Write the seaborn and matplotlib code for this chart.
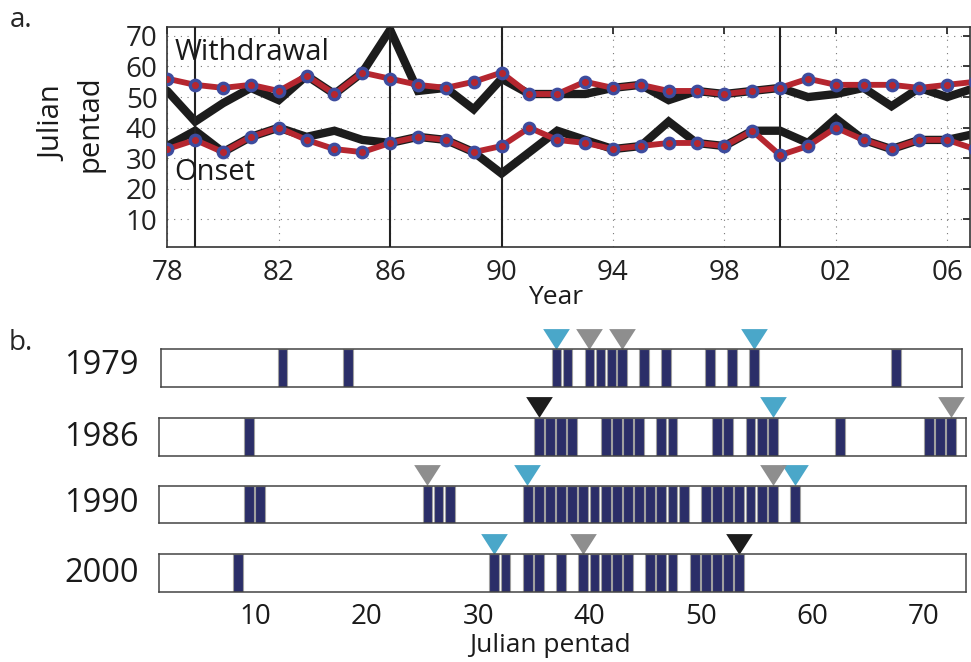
import numpy as np
import pandas as pd
import seaborn as sns
import matplotlib.pyplot as plt
from matplotlib.path import Path

# panel a: onset / withdrawal pentads per year
years = list(range(1978, 2008))
onset_red = [33, 36, 32, 37, 40, 36, 33, 32, 35, 37, 36, 32, 34, 40, 36,
             35, 33, 34, 35, 35, 34, 39, 31, 34, 40, 36, 33, 36, 36, 33]
withdrawal_red = [56, 54, 53, 54, 52, 57, 51, 58, 56, 54, 53, 55, 58, 51, 51,
                  55, 53, 54, 52, 52, 51, 52, 53, 56, 54, 54, 54, 53, 54, 55]
onset_black = [34, 39, 32, 37, 40, 37, 39, 36, 35, 37, 36, 32, 25, 32, 39,
               36, 33, 34, 42, 35, 34, 39, 39, 35, 43, 36, 33, 36, 36, 38]
withdrawal_black = [52, 42, 48, 53, 49, 57, 51, 58, 72, 52, 53, 46, 56, 51, 51,
                    51, 53, 54, 49, 52, 51, 52, 53, 50, 51, 53, 47, 53, 50, 53]
marked_years = [1979, 1986, 1990, 2000]
year_ticks = [1978, 1982, 1986, 1990, 1994, 1998, 2002, 2006]
year_labels = ["78", "82", "86", "90", "94", "98", "02", "06"]

# panel b: active pentads for the marked years
active_1979 = [11, 17, 36, 37, 39, 40, 41, 42, 44, 46, 50, 52, 54, 67]
active_1986 = [9, 35, 36, 37, 38, 41, 42, 43, 44, 46, 47, 51, 52, 54, 55, 56,
               62, 70, 71, 72]
active_1990 = [9, 10, 25, 26, 27, 34, 35, 36, 37, 38, 39, 40, 41, 42, 43, 44,
               45, 46, 47, 48, 50, 51, 52, 53, 54, 55, 56, 58]
active_2000 = [8, 31, 32, 34, 35, 37, 39, 40, 41, 42, 43, 45, 46, 47, 49, 50,
               51, 52, 53]
pentad_ticks = [10, 20, 30, 40, 50, 60, 70]

RED = "#b5262f"
BLUE = "#3d4c9e"
BLACK = "#1c1c1c"
NAVY = "#2b2e68"
CYAN = "#4aa7c9"
GRAY = "#8e8e8e"

sns.set_theme(style="white")
plt.rcParams['font.family'] = ['Open Sans', 'DejaVu Sans']

W, H = 971, 662
fig = plt.figure(figsize=(W / 100, H / 100), dpi=100)


def box(l, t, r, b):
    return [l / W, 1 - b / H, (r - l) / W, (b - t) / H]


# ---------------- panel a ----------------
df = pd.DataFrame({"year": years, "onset_red": onset_red,
                   "withdrawal_red": withdrawal_red,
                   "onset_black": onset_black,
                   "withdrawal_black": withdrawal_black})

ax = fig.add_axes(box(167.3, 26.7, 969.5, 247))
for col in ["onset_black", "withdrawal_black"]:
    sns.lineplot(data=df, x="year", y=col, color=BLACK, linewidth=6,
                 solid_joinstyle="miter", ax=ax, zorder=2)
for yr in marked_years:
    ax.axvline(yr, color="#222222", lw=1.5, zorder=3)
for col in ["onset_red", "withdrawal_red"]:
    sns.lineplot(data=df, x="year", y=col, color=RED, linewidth=4.2,
                 marker="o", markersize=7.5, markerfacecolor=RED,
                 markeredgecolor=BLUE, markeredgewidth=2.4, ax=ax, zorder=4)

ax.set_xlim(1978, 2006.8)
ax.set_ylim(1, 73)
ax.set_xticks(year_ticks)
ax.set_xticklabels(year_labels)
ax.set_yticks([10, 20, 30, 40, 50, 60, 70])
ax.set_xlabel("")
ax.set_ylabel("")
ax.grid(True, linestyle=(0, (1, 5)), color="#777777", lw=0.8)
ax.tick_params(direction="in", length=5, top=True, right=True,
               labelsize=20, colors="#222222")
ax.tick_params(axis="x", pad=9)
ax.tick_params(axis="y", pad=7)
for s in ax.spines.values():
    s.set_color("#333333")
    s.set_linewidth(1.2)
ax.text(1978.25, 64.5, "Withdrawal", fontsize=21, va="center", ha="left",
        color="#1a1a1a", zorder=5)
ax.text(1978.25, 25.5, "Onset", fontsize=21, va="center", ha="left",
        color="#1a1a1a", zorder=5)

fig.text(72 / W, 1 - 124 / H, "Julian\npentad", rotation=90, fontsize=21,
         ha="center", va="center", linespacing=1.3, color="#1a1a1a")
fig.text(556 / W, 1 - 297 / H, "Year", fontsize=19, ha="center",
         va="center", color="#1a1a1a")
fig.text(21 / W, 1 - 20 / H, "a.", fontsize=20, ha="center", va="center")
fig.text(21 / W, 1 - 343 / H, "b.", fontsize=20, ha="center", va="center")

# ---------------- panel b ----------------
tri = Path([(-1, 0.78), (1, 0.78), (0, -0.78), (-1, 0.78)],
           [Path.MOVETO, Path.LINETO, Path.LINETO, Path.CLOSEPOLY])

rows = [
    (1979, active_1979, (161, 349.3, 962.3, 386.7), (0.35, 73.46), 366),
    (1986, active_1986, (159.3, 417.7, 965.7, 455.7), (1.37, 73.76), 437),
    (1990, active_1990, (159.3, 485.7, 965.7, 523.3), (1.37, 73.76), 504),
    (2000, active_2000, (159.3, 554, 965.7, 591.7), (1.37, 73.76), 574),
]

for yr, active, (l, t, r, b), lims, label_y in rows:
    bx = fig.add_axes(box(l, t, r, b))
    bx.bar(active, [1] * len(active), width=0.88, align="edge", color=NAVY,
           edgecolor="#a0a0a0", linewidth=0.8)
    bx.set_xlim(*lims)
    bx.set_ylim(0, 1)
    bx.set_yticks([])
    for s in bx.spines.values():
        s.set_color("#444444")
        s.set_linewidth(1.1)

    # onset / withdrawal markers taken from panel a
    i = years.index(yr)
    marks = []
    for rv, bv in [(onset_red[i], onset_black[i]),
                   (withdrawal_red[i], withdrawal_black[i])]:
        if rv == bv:
            marks.append((rv, BLACK))
        else:
            marks.append((rv, CYAN))
            marks.append((bv, GRAY))
    off = 10.4 / (b - t)
    for p, c in marks:
        bx.plot([p + 0.42], [1 + off], marker=tri, markersize=19.2, color=c,
                markeredgewidth=0, linestyle="none", clip_on=False,
                transform=bx.get_xaxis_transform())

    if yr == 2000:
        bx.set_xticks(pentad_ticks)
        bx.tick_params(axis="x", length=0, labelsize=20, pad=8,
                       colors="#1a1a1a")
    else:
        bx.set_xticks([])

    fig.text(139 / W, 1 - label_y / H, str(yr), fontsize=23.5, ha="right",
             va="center", color="#1a1a1a")

fig.text(550 / W, 1 - 645 / H, "Julian pentad", fontsize=19, ha="center",
         va="center", color="#1a1a1a")

fig.savefig("out.png", dpi=100)
